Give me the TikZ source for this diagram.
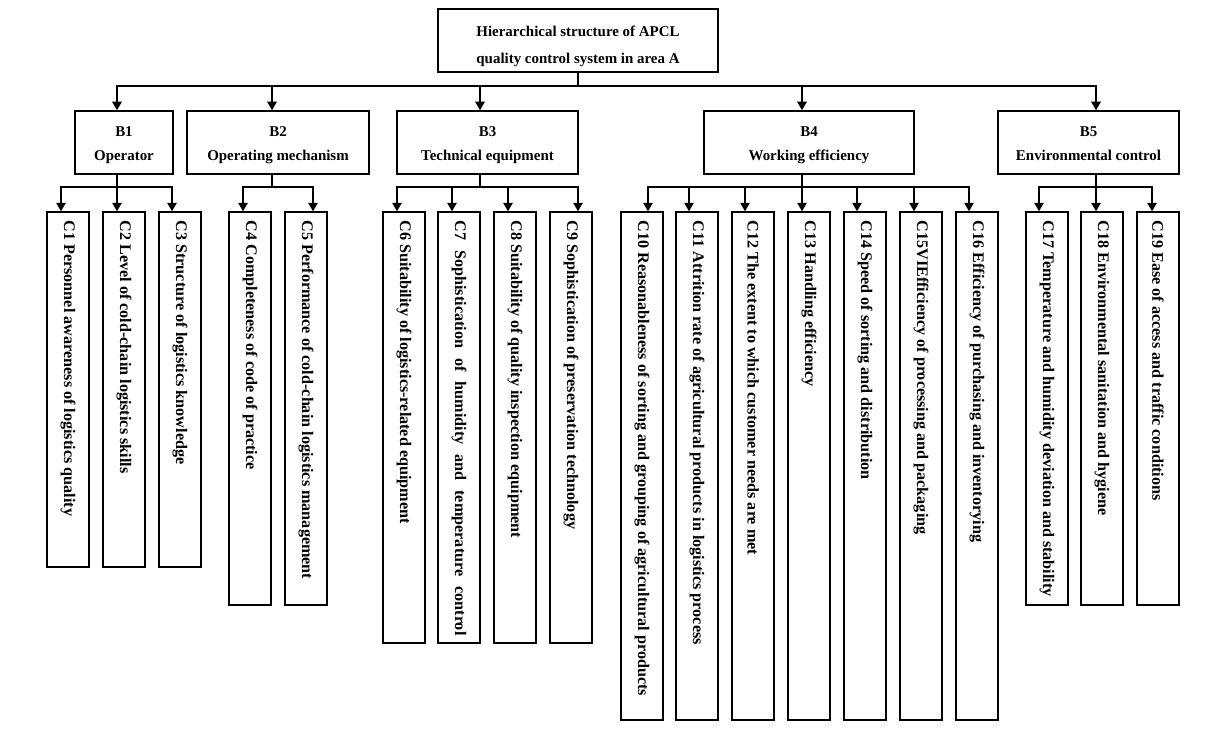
\documentclass[tikz,border=0pt]{standalone}
\usepackage{fontspec}
\setmainfont{Liberation Serif}
\usetikzlibrary{arrows.meta}

\begin{document}
\begin{tikzpicture}[x=0.02cm,y=-0.02cm,
    box/.style={draw,line width=0.9pt,inner sep=0pt,minimum height=1.26cm,align=center,text height=0.74cm,text depth=0pt,font=\bfseries\fontsize{8.5}{13.7}\selectfont},
    cbox/.style={draw,line width=0.9pt,inner sep=0pt,minimum width=0.84cm},
    ctext/.style={rotate=-90,anchor=west,inner sep=0.18cm,font=\bfseries\fontsize{9.2}{10}\selectfont},
    arr/.style={-{Triangle[length=0.17cm,width=0.19cm]},line width=0.8pt}]
    \useasboundingbox (0,0) rectangle (1212,730);
    % top level
    \node[box,minimum width=5.6cm,text height=0.92cm,font=\bfseries\fontsize{8.5}{15.4}\selectfont] (top) at (578,40.5) {Hierarchical structure of APCL\\quality control system in area A};
    \coordinate (bus) at (578,86);
    % criteria
    \node[box,minimum width=1.96cm] (B1) at (124,142.5) {B1\\Operator};
    \node[box,minimum width=3.64cm] (B2) at (278,142.5) {B2\\Operating mechanism};
    \node[box,minimum width=3.62cm] (B3) at (487.5,142.5) {B3\\Technical equipment};
    \node[box,minimum width=4.2cm] (B4) at (809,142.5) {B4\\Working efficiency};
    \node[box,minimum width=3.62cm] (B5) at (1088.5,142.5) {B5\\Environmental control};
    \coordinate (b1) at (117,187);
    \coordinate (b2) at (272,187);
    \coordinate (b3) at (480,187);
    \coordinate (b4) at (802,187);
    \coordinate (b5) at (1096,187);
    % indicators
    \node[cbox,minimum height=7.1cm] (C1) at (68,389.5) {};
    \node[cbox,minimum height=7.1cm] (C2) at (124,389.5) {};
    \node[cbox,minimum height=7.1cm] (C3) at (180,389.5) {};
    \node[cbox,minimum height=7.86cm] (C4) at (250,408.5) {};
    \node[cbox,minimum height=7.86cm] (C5) at (306,408.5) {};
    \node[cbox,minimum height=8.62cm] (C6) at (404,427.5) {};
    \node[cbox,minimum height=8.62cm] (C7) at (459,427.5) {};
    \node[cbox,minimum height=8.62cm] (C8) at (515,427.5) {};
    \node[cbox,minimum height=8.62cm] (C9) at (571,427.5) {};
    \node[cbox,minimum height=10.16cm] (C10) at (642,466) {};
    \node[cbox,minimum height=10.16cm] (C11) at (697,466) {};
    \node[cbox,minimum height=10.16cm] (C12) at (753,466) {};
    \node[cbox,minimum height=10.16cm] (C13) at (809,466) {};
    \node[cbox,minimum height=10.16cm] (C14) at (865,466) {};
    \node[cbox,minimum height=10.16cm] (C15) at (921,466) {};
    \node[cbox,minimum height=10.16cm] (C16) at (977,466) {};
    \node[cbox,minimum height=7.86cm] (C17) at (1047,408.5) {};
    \node[cbox,minimum height=7.86cm] (C18) at (1102,408.5) {};
    \node[cbox,minimum height=7.86cm] (C19) at (1158,408.5) {};
    \node[ctext] (C1t) at (C1.north) {C1 Personnel awareness of logistics quality};
    \node[ctext] (C2t) at (C2.north) {C2 Level of cold-chain logistics skills};
    \node[ctext] (C3t) at (C3.north) {C3 Structure of logistics knowledge};
    \node[ctext] (C4t) at (C4.north) {C4 Completeness of code of practice};
    \node[ctext] (C5t) at (C5.north) {C5 Performance of cold-chain logistics management};
    \node[ctext] (C6t) at (C6.north) {C6 Suitability of logistics-related equipment};
    \node[ctext] (C7t) at (C7.north) {\makebox[8.3cm][s]{C7 Sophistication of humidity and temperature control}};
    \node[ctext] (C8t) at (C8.north) {C8 Suitability of quality inspection equipment};
    \node[ctext] (C9t) at (C9.north) {C9 Sophistication of preservation technology};
    \node[ctext] (C10t) at (C10.north) {C10 Reasonableness of sorting and grouping of agricultural products};
    \node[ctext] (C11t) at (C11.north) {C11 Attrition rate of agricultural products in logistics process};
    \node[ctext] (C12t) at (C12.north) {C12 The extent to which customer needs are met};
    \node[ctext] (C13t) at (C13.north) {C13 Handling efficiency};
    \node[ctext] (C14t) at (C14.north) {C14 Speed of sorting and distribution};
    \node[ctext] (C15t) at (C15.north) {C15VIEfficiency of processing and packaging};
    \node[ctext] (C16t) at (C16.north) {C16 Efficiency of purchasing and inventorying};
    \node[ctext] (C17t) at (C17.north) {C17 Temperature and humidity deviation and stability};
    \node[ctext] (C18t) at (C18.north) {C18 Environmental sanitation and hygiene};
    \node[ctext] (C19t) at (C19.north) {C19 Ease of access and traffic conditions};
    % top to criteria
    \draw[line width=0.8pt] (top.south) -- (bus);
    \draw[arr] (bus) -| (B1.north -| b1);
    \draw[arr] (bus) -| (B2.north -| b2);
    \draw[arr] (bus) -| (B3.north -| b3);
    \draw[arr] (bus) -| (B4.north -| b4);
    \draw[arr] (bus) -| (B5.north -| b5);
    % criteria to indicators
    \draw[line width=0.8pt] (B1.south -| b1) -- (b1);
    \draw[line width=0.8pt] (B2.south -| b2) -- (b2);
    \draw[line width=0.8pt] (B3.south -| b3) -- (b3);
    \draw[line width=0.8pt] (B4.south -| b4) -- (b4);
    \draw[line width=0.8pt] (B5.south -| b5) -- (b5);
    \draw[arr] (b1) -| ([xshift=-0.14cm]C1.north);
    \draw[arr] (b1) -| ([xshift=-0.14cm]C2.north);
    \draw[arr] (b1) -| ([xshift=-0.16cm]C3.north);
    \draw[arr] (b2) -| ([xshift=-0.14cm]C4.north);
    \draw[arr] (b2) -| ([xshift=0.14cm]C5.north);
    \draw[arr] (b3) -| ([xshift=-0.14cm]C6.north);
    \draw[arr] (b3) -| ([xshift=-0.14cm]C7.north);
    \draw[arr] (b3) -| ([xshift=-0.14cm]C8.north);
    \draw[arr] (b3) -| ([xshift=0.14cm]C9.north);
    \draw[arr] (b4) -| ([xshift=0.12cm]C10.north);
    \draw[arr] (b4) -| ([xshift=-0.16cm]C11.north);
    \draw[arr] (b4) -| ([xshift=-0.16cm]C12.north);
    \draw[arr] (b4) -| ([xshift=-0.14cm]C13.north);
    \draw[arr] (b4) -| ([xshift=-0.16cm]C14.north);
    \draw[arr] (b4) -| ([xshift=-0.14cm]C15.north);
    \draw[arr] (b4) -| ([xshift=-0.16cm]C16.north);
    \draw[arr] (b5) -| ([xshift=-0.16cm]C17.north);
    \draw[arr] (b5) -| ([xshift=-0.12cm]C18.north);
    \draw[arr] (b5) -| ([xshift=-0.12cm]C19.north);
\end{tikzpicture}
\end{document}
